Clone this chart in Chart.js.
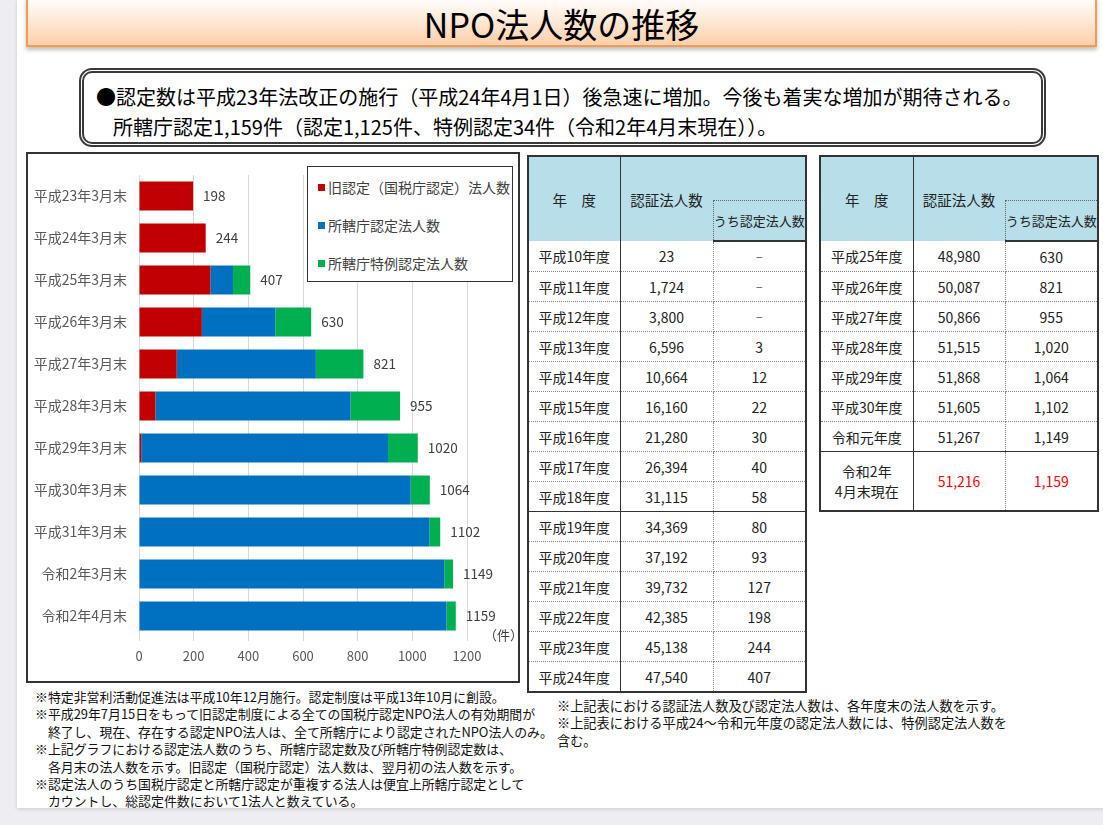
<!DOCTYPE html>
<html lang="ja">
<head>
<meta charset="utf-8">
<title>NPO法人数の推移</title>
<script src="https://cdn.jsdelivr.net/npm/chart.js@4.4.1/dist/chart.umd.min.js"></script>
<style>
  html, body { margin: 0; padding: 0; }
  body {
    width: 1103px; height: 825px; overflow: hidden; position: relative;
    background: #ededf2;
    font-family: "Noto Sans CJK JP", "Noto Sans", sans-serif; color: #111;
  }
  .slide { position: absolute; left: 17px; top: 0; width: 1100px; height: 808px; background: #fff;
    box-shadow: 0 1px 4px rgba(0,0,0,0.15); }
  .title {
    position: absolute; left: 26px; top: -3px; width: 1067px; height: 48px;
    border: 2px solid #f59a4e; border-top: none;
    background: linear-gradient(#ffffff 0%, #fde6d2 55%, #fbcfa9 100%);
    box-shadow: 0 3px 4px rgba(0,0,0,0.25);
    text-align: center; font-size: 34px; line-height: 54px; color: #000;
  }
  .msg {
    position: absolute; left: 79px; top: 68px; width: 957px; height: 69px;
    border: 5px double #3a3a3a; border-radius: 13px; background: #fff;
    font-size: 20px; line-height: 30px; color: #000;
  }
  .msg .l1 { position: absolute; left: 12px; top: 9px; white-space: nowrap; }
  .msg .l2 { position: absolute; left: 29px; top: 39px; white-space: nowrap; }
  .frame { position: absolute; left: 26px; top: 152px; width: 490px; height: 527px;
    border: 2px solid #333; background: #fff; }
  .frame .cv { position: absolute; left: 0; top: 0; width: 490px; height: 527px; }
  .legend { position: absolute; left: 279px; top: 12px; width: 204px; height: 114px;
    border: 1px solid #333; background: #fff; font-size: 14px; color: #404040; }
  .legend div { position: absolute; left: 10px; white-space: nowrap; line-height: 18px; }
  .legend i { display: inline-block; width: 7px; height: 7px; margin-right: 3px; vertical-align: 2px; }
  .unit { position: absolute; left: 456px; top: 471px; font-size: 13px; color: #404040; }
  table.t { position: absolute; top: 155px; width: 278px; border-collapse: collapse; table-layout: fixed;
    border: 2px solid #333; font-size: 14px; color: #222; background: #fff; }
  table.t th { background: #b8dfe9; font-weight: normal; font-size: 14.5px; padding: 0; border: none; }
  table.t th.c1 { border-right: 1px solid #333; }
  table.t th.sub { font-size: 13px; border-left: 1px dotted #666; border-top: 1px dotted #666; white-space: nowrap; }
  table.t tr.hb th { border-bottom: 2px solid #333; }
  table.t td { text-align: center; padding: 0; height: 29px; border-bottom: 1px dotted #888; white-space: nowrap; }
  table.t td.c1 { border-right: 1px solid #333; }
  table.t td.c2 { border-right: 1px dotted #888; }
  table.t tr.solid td { border-bottom: 1px solid #333; }
  table.t td.red { color: #ff0000; }
  table.t td.dash { font-size: 8px; }
  .note { position: absolute; font-size: 12.9px; line-height: 17.4px; color: #111; white-space: nowrap; }
</style>
</head>
<body>
<div class="slide"></div>
<div class="title">NPO法人数の推移</div>
<div class="msg">
  <div class="l1">●認定数は平成23年法改正の施行（平成24年4月1日）後急速に増加。今後も着実な増加が期待される。</div>
  <div class="l2">所轄庁認定1,159件（認定1,125件、特例認定34件（令和2年4月末現在））。</div>
</div>

<div class="frame">
  <div class="cv"><canvas id="npoChart"></canvas></div>
  <div class="legend" id="legend"></div>
  <div class="unit">（件）</div>
</div>

<table class="t" id="tbl1" style="left:527px">
  <colgroup><col style="width:92px"><col style="width:93px"><col style="width:93px"></colgroup>
</table>
<table class="t" id="tbl2" style="left:819px">
  <colgroup><col style="width:93px"><col style="width:92px"><col style="width:93px"></colgroup>
</table>

<div class="note" style="left:35px; top:688px">
  ※特定非営利活動促進法は平成10年12月施行。認定制度は平成13年10月に創設。<br>
  ※平成29年7月15日をもって旧認定制度による全ての国税庁認定NPO法人の有効期間が<br>
  　終了し、現在、存在する認定NPO法人は、全て所轄庁により認定されたNPO法人のみ。<br>
  ※上記グラフにおける認定法人数のうち、所轄庁認定数及び所轄庁特例認定数は、<br>
  　各月末の法人数を示す。旧認定（国税庁認定）法人数は、翌月初の法人数を示す。<br>
  ※認定法人のうち国税庁認定と所轄庁認定が重複する法人は便宜上所轄庁認定として<br>
  　カウントし、総認定件数において1法人と数えている。
</div>
<div class="note" style="left:557px; top:697px; font-size:13.2px">
  ※上記表における認証法人数及び認定法人数は、各年度末の法人数を示す。<br>
  ※上記表における平成24～令和元年度の認定法人数には、特例認定法人数を<br>
  含む。
</div>

<script>
// ---- chart data ----
const labels = ['平成23年3月末','平成24年3月末','平成25年3月末','平成26年3月末','平成27年3月末',
  '平成28年3月末','平成29年3月末','平成30年3月末','平成31年3月末','令和2年3月末','令和2年4月末'];
const oldCert     = [198, 244, 261, 230, 138,  60,   8,   0,    0,    0,    0];
const prefCert    = [  0,   0,  83, 269, 509, 714, 903, 994, 1062, 1117, 1125];
const specialCert = [  0,   0,  63, 131, 174, 181, 109,  70,   40,   32,   34];
const totals      = [198, 244, 407, 630, 821, 955, 1020, 1064, 1102, 1149, 1159];
const seriesNames = ['旧認定（国税庁認定）法人数', '所轄庁認定法人数', '所轄庁特例認定法人数'];
const seriesColors = ['#c00000', '#0070c0', '#00b050'];
const xTicks = [0, 200, 400, 600, 800, 1000, 1200];

// ---- table data ----
const t1Years = ['平成10年度','平成11年度','平成12年度','平成13年度','平成14年度','平成15年度','平成16年度',
  '平成17年度','平成18年度','平成19年度','平成20年度','平成21年度','平成22年度','平成23年度','平成24年度'];
const t1Auth = ['23','1,724','3,800','6,596','10,664','16,160','21,280','26,394','31,115','34,369',
  '37,192','39,732','42,385','45,138','47,540'];
const t1Cert = ['－','－','－','3','12','22','30','40','58','80','93','127','198','244','407'];
const t2Years = ['平成25年度','平成26年度','平成27年度','平成28年度','平成29年度','平成30年度','令和元年度'];
const t2Auth = ['48,980','50,087','50,866','51,515','51,868','51,605','51,267'];
const t2Cert = ['630','821','955','1,020','1,064','1,102','1,149'];
const t2Last = ['令和2年<br>4月末現在', '51,216', '1,159'];

const FONT = '"Noto Sans CJK JP", sans-serif';

function headerRows() {
  return `<tr style="height:44px"><th rowspan="2" class="c1">年　度</th><th rowspan="2">認証法人数</th><th></th></tr>
    <tr class="hb" style="height:41px"><th class="sub">うち認定法人数</th></tr>`;
}

function bodyRows(years, auth, cert, solidAfter) {
  return years.map((y, i) => `<tr class="${i === solidAfter ? 'solid' : ''}">
    <td class="c1">${y}</td><td class="c2">${auth[i]}</td>
    <td class="${cert[i] === '－' ? 'dash' : ''}">${cert[i]}</td></tr>`).join('');
}

document.getElementById('tbl1').insertAdjacentHTML('beforeend',
  headerRows() + bodyRows(t1Years, t1Auth, t1Cert, 8));
document.getElementById('tbl2').insertAdjacentHTML('beforeend',
  headerRows() + bodyRows(t2Years, t2Auth, t2Cert, t2Years.length - 1) +
  `<tr><td class="c1" style="height:58px;line-height:20px">${t2Last[0]}</td>
   <td class="c2 red">${t2Last[1]}</td><td class="red">${t2Last[2]}</td></tr>`);

document.getElementById('legend').innerHTML = seriesNames.map((n, i) =>
  `<div style="top:${11 + i * 38}px"><i style="background:${seriesColors[i]}"></i>${n}</div>`).join('');

// total label at the end of each stacked bar
const totalLabels = {
  id: 'totalLabels',
  afterDatasetsDraw(chart) {
    const { ctx } = chart;
    const x = chart.scales.x;
    const meta = chart.getDatasetMeta(0);
    ctx.save();
    ctx.font = '13.5px ' + FONT;
    ctx.fillStyle = '#404040';
    ctx.textBaseline = 'middle';
    totals.forEach((t, i) => ctx.fillText(String(t), x.getPixelForValue(t) + 10, meta.data[i].y));
    ctx.restore();
  }
};

new Chart(document.getElementById('npoChart'), {
  type: 'bar',
  data: {
    labels,
    datasets: [oldCert, prefCert, specialCert].map((d, i) => ({
      label: seriesNames[i], data: d, backgroundColor: seriesColors[i],
      barPercentage: 0.69, categoryPercentage: 1, borderWidth: 0
    }))
  },
  options: {
    indexAxis: 'y',
    responsive: true, maintainAspectRatio: false, animation: false,
    layout: { padding: { top: 21, right: 51, left: 0, bottom: 0 } },
    plugins: { legend: { display: false }, tooltip: { enabled: false } },
    scales: {
      x: {
        stacked: true, min: 0, max: 1200,
        afterBuildTicks: s => { s.ticks = xTicks.map(v => ({ value: v })); },
        afterFit: s => { s.height = 44; },
        grid: { color: '#d9d9d9', tickLength: 4 },
        border: { display: false },
        ticks: { color: '#595959', padding: 7, font: { family: FONT, size: 13 }, callback: v => String(v) }
      },
      y: {
        stacked: true,
        afterFit: s => { s.width = 111; },
        grid: { display: false, drawTicks: false },
        border: { display: false },
        ticks: { color: '#595959', padding: 12, font: { family: FONT, size: 14 } }
      }
    }
  },
  plugins: [totalLabels]
});
</script>
</body>
</html>
